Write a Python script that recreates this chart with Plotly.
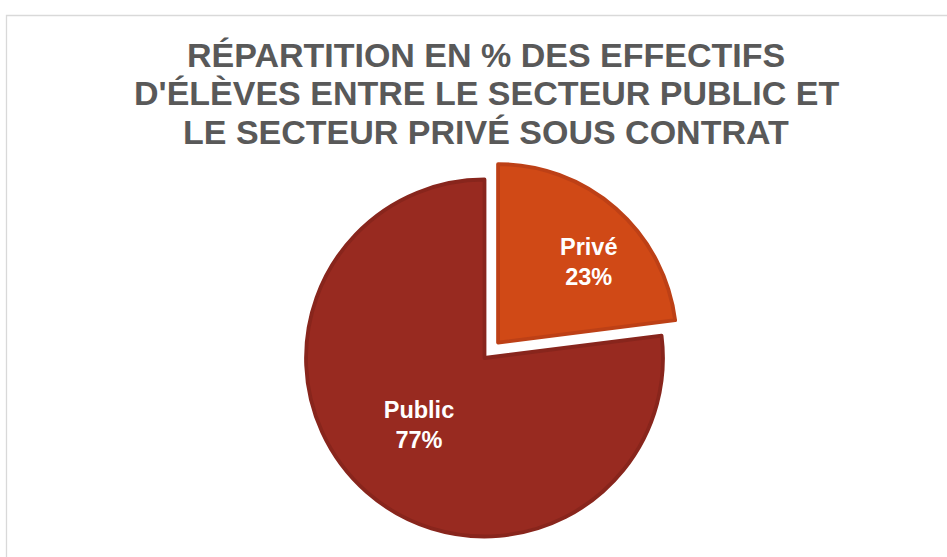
import plotly.graph_objects as go

# Data
categories = ["Privé", "Public"]
shares = [23, 77]
title_lines = [
    "RÉPARTITION EN % DES EFFECTIFS",
    "D'ÉLÈVES ENTRE LE SECTEUR PUBLIC ET",
    "LE SECTEUR PRIVÉ SOUS CONTRAT",
]

W, H = 947, 557
FONT = "Arial, 'Liberation Sans', sans-serif"

pad_l = "&nbsp;" * 6
pad_r = "&nbsp;" * 2
templates = [
    f"{pad_l}<b>%{{label}}</b><br>{pad_l}<b>%{{percent:.0%}}</b>",
    f"<b>%{{label}}</b>{pad_r}<br><b>%{{percent:.0%}}</b>{pad_r}",
]

fig = go.Figure(
    go.Pie(
        labels=categories,
        values=shares,
        sort=False,
        direction="clockwise",
        rotation=0,
        pull=[0.115, 0],
        marker=dict(
            colors=["#D04916", "#982A20"],
            line=dict(color=["#BD4016", "#88251C"], width=3.8),
        ),
        texttemplate=templates,
        textposition="inside",
        insidetextorientation="horizontal",
        textfont=dict(family=FONT, size=23.5, color="white"),
        showlegend=False,
        hoverinfo="label+percent",
        domain=dict(x=[285.5 / W, 683.5 / W], y=[0, 398 / H]),
    )
)

title_y = [54.5, 93, 131.5]
for line, yc in zip(title_lines, title_y):
    fig.add_annotation(
        text=f"<b>{line}</b>",
        x=486 / W, y=1 - yc / H, xref="paper", yref="paper",
        xanchor="center", yanchor="middle", showarrow=False,
        font=dict(family=FONT, size=34, color="#595959"),
    )

fig.add_shape(
    type="rect", xref="paper", yref="paper",
    x0=6.5 / W, x1=1.2, y0=-0.2, y1=1 - 15.5 / H,
    line=dict(color="#D9D9D9", width=1.3), fillcolor="rgba(0,0,0,0)", layer="below",
)

fig.update_layout(
    width=W, height=H,
    margin=dict(l=0, r=0, t=0, b=0),
    paper_bgcolor="white", plot_bgcolor="white",
    font=dict(family=FONT),
)

fig.write_html("out.html")
